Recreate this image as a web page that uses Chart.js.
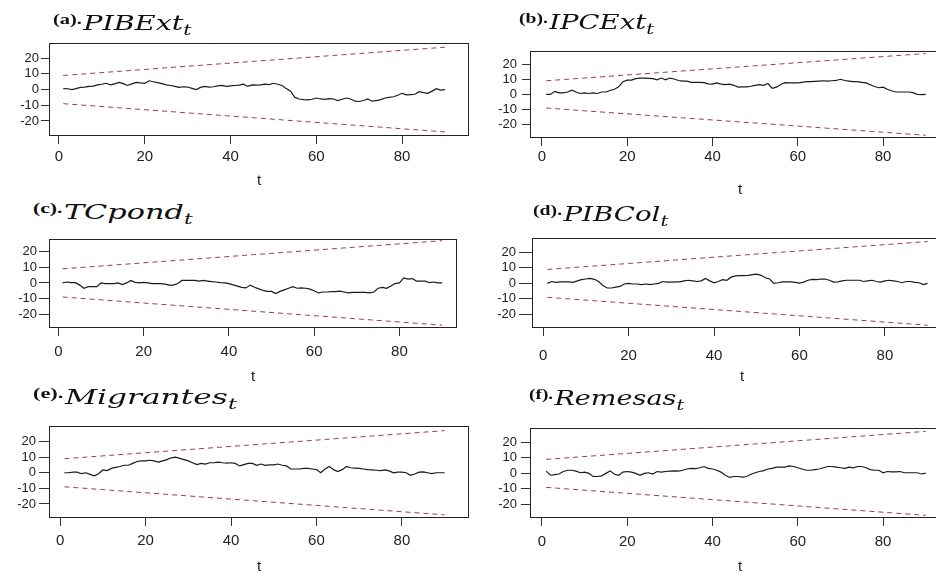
<!DOCTYPE html>
<html>
<head>
<meta charset="utf-8">
<script src="https://cdn.jsdelivr.net/npm/chart.js@4.4.1/dist/chart.umd.min.js"></script>
<style>
  body { margin: 0; background: #fff; width: 936px; height: 581px; overflow: hidden; position: relative; }
  .panel { position: absolute; }
  .ttl { position: absolute; white-space: nowrap; transform-origin: 0 0; color: #111; line-height: 24px; }
  .ttl b { font: bold 15px "Liberation Serif", serif; position: relative; top: -6px; margin-right: 1px; }
  .ttl i { font: italic 21px "DejaVu Serif", serif; }
  .ttl sub { font: italic 15px "DejaVu Serif", serif; vertical-align: -5px; }
</style>
</head>
<body>
<script>
// axis ticks
const xTicks = [0, 20, 40, 60, 80];
const yTicks = [-20, -10, 0, 10, 20];

// CUSUM 5% bands, start and end points
const boundT = [1, 90];
const upperBound = [9, 27];
const lowerBound = [-9, -27];

// recursive residual cumulative sums, t = 1..90
const pibExt = [0.6,0.5,0.0,0.6,1.4,1.6,2.0,2.2,3.0,3.4, 4.0,3.0,3.6,4.6,3.8,2.6,3.6,4.6,4.2,4.0,
  5.6,5.0,4.4,3.8,3.0,2.6,2.0,1.4,1.8,1.6, 0.8,0.0,1.4,2.0,1.6,1.8,2.4,2.6,2.0,2.4,
  2.6,2.8,3.4,2.0,3.0,2.8,3.0,3.4,3.2,4.0, 3.4,2.6,0.6,-1.0,-5.0,-6.0,-6.4,-6.6,-6.2,-5.4,
  -6.0,-6.2,-5.8,-6.0,-7.0,-6.2,-5.4,-6.0,-7.4,-7.6, -7.0,-6.0,-7.4,-7.0,-6.4,-5.4,-5.0,-4.6,-3.6,-2.4,
  -3.4,-3.2,-3.0,-1.4,-2.0,-2.4,-1.0,0.6,-0.4,0.0];
const ipcExt = [0,0,2,1,1,1.6,2.8,1.6,0.6,1, 0.6,1,0.6,1.6,1.6,2.6,3.4,5,8.4,9.4,
  9.4,10.4,10.8,10.8,10.6,10.4,9.6,10.8,9.6,10.8, 10.2,9.2,8.8,8.8,8,8,8,7.8,7,6.8,
  7.6,6.8,6.4,6.8,6,4.8,5,5,5.4,6, 6.4,6,7.2,4,4.8,6.6,7.8,7.6,7.6,7.6,
  8,8.4,8.4,8.6,8.8,9,8.8,9,9.2,10, 9.2,8.8,8.4,8.4,8,7.6,6.4,5.2,4.4,4.8,
  3.4,2.4,1.6,1.6,1.6,1.6,1.2,0,-0.2,0];
const tcPond = [0,0.6,0.2,0.2,-1.4,-3.4,-2.4,-2.4,-2.4,0, -0.4,-0.4,-0.4,0,-1,0,1.6,0.4,0,0.4,
  0,-0.4,-0.4,-0.4,-0.8,-1.4,-1.4,-0.4,1.6,1.6, 1.6,1.6,1.2,1.6,1.2,0.8,0.6,0.2,0,-0.4,
  -1.2,-2,-2.8,-3.2,-1.4,-2.8,-3.8,-4.8,-5.4,-5.4, -6.8,-5.4,-4.4,-3.4,-2.4,-3.4,-3.2,-3.4,-4,-5,
  -6.4,-5.8,-5.8,-5.6,-5.6,-5.2,-5.8,-6.4,-6,-6, -6,-6,-6.4,-5.8,-3.4,-2.8,-3.4,-2,-0.4,0,
  3.2,2.4,2.8,1.2,1.2,1.2,0.2,0.6,0,0];
const pibCol = [0,1.2,0.6,1,1,1,0.6,1.6,2.4,2.8, 3.2,2.6,1.2,-1.4,-3,-3,-2.4,-2,-0.4,0,
  -0.4,-0.4,-0.8,-0.4,-0.8,-0.4,0,1.2,0.8,0.8, 1,1,1.6,2,1.6,1.2,1.6,3.2,1.6,0.4,
  1.2,2.4,2,4,4.8,5,5,5.2,5.6,6, 5.2,3.6,2.8,0,0.4,1,1,1,0.6,0.2,
  0.8,2,2.6,2.4,2.8,2.8,2,0.8,1,1.6, 2,2,2,2,1.2,1.6,2,1.2,0.8,1.6,
  2,1.6,1.2,0.4,1.2,1.2,0.6,0.4,-0.8,0];
const migrantes = [0,0,0.4,0.4,-0.6,0,-1,-2,-0.6,1.8, 1.4,2.8,3.4,4,4.8,4.8,6,7.2,7.6,7.6,
  8,7.6,6.8,7.6,8.4,9.6,10,9.2,8.4,7.6, 6.4,5.2,6,5.6,6.4,6.4,6.8,6.4,6.2,6.4,
  6,4.4,5.2,6,6,4.8,5.6,4.8,5,5, 5.6,4.8,4.4,2.4,2.4,2.4,2.8,2.8,2.4,2,
  0,2.4,4,2,0.8,2,4,3.2,3,2.8, 2.4,2,1.8,1.6,1.4,1.8,1.2,0,0.4,0.4,
  0,-1.6,-0.8,0.4,0.6,0,-0.6,0,0,0];
const remesas = [1.4,-1.2,-0.8,-0.4,1.2,2,2,1.4,0.4,0.8, 0,-2,-2,-1.6,0,1.6,-0.6,-1.2,0.8,1.2,
  0.8,0,-1.2,0,0.4,-0.4,1.2,0.8,1.2,1.4, 1.6,1.4,2,2.8,3.2,3,3.6,4.4,3.2,2.8,
  2,0.8,-1.2,-2.6,-2,-2,-2.4,-2,-0.6,0.4, 1.2,1.8,2.8,3.2,4,4,4,4.8,4.4,3.6,
  2.8,2,2,2.4,2.8,3.6,4.4,4.4,4,3.6, 3.2,4,3.6,4.4,4.4,3.6,2.4,2,2,0.4,
  1.2,1,1,1.2,0.4,0.4,0.4,0.4,-0.4,0.2];

// box = plot frame [left, top, right, bottom]; title = [left, baseline, width of name]
const panels = [
  { series: pibExt, tag: '(a).', name: 'PIBExt', title: [53, 30, 100],
    box: [49, 37, 469, 136], x: [-2.33, 95.6], y: [-29.6, 29.8], yTick: 8, yPad: 2, xPad: 4, xAxisH: 54 },
  { series: ipcExt, tag: '(b).', name: 'IPCExt', title: [519, 29, 97],
    box: [530, 42, 950, 138], x: [-2.8, 95.7], y: [-28.8, 28.8], yTick: 8, yPad: 5, xPad: 2, xAxisH: 61 },
  { series: tcPond, tag: '(c).', name: 'TCpond', title: [33, 219, 120],
    box: [49, 233, 457, 328], x: [-2.2, 93.5], y: [-28.8, 28.2], yTick: 10, yPad: 2, xPad: 7, xAxisH: 58 },
  { series: pibCol, tag: '(d).', name: 'PIBCol', title: [533, 221, 97],
    box: [532, 231, 952, 328], x: [-2.6, 95.7], y: [-28.8, 29.4], yTick: 13, yPad: 3, xPad: 11, xAxisH: 58 },
  { series: migrantes, tag: '(e).', name: 'Migrantes', title: [33, 404, 163],
    box: [49, 419, 469, 518], x: [-2.6, 95.7], y: [-29.0, 30.1], yTick: 10, yPad: 3, xPad: 6, xAxisH: 58 },
  { series: remesas, tag: '(f).', name: 'Remesas', title: [529, 405, 122],
    box: [530, 420, 950, 518], x: [-2.8, 95.7], y: [-28.7, 29.3], yTick: 9, yPad: 4, xPad: 7, xAxisH: 58 }
];

const bandColor = '#a03c3c';
const inkColor = '#222';
const padL = 60, padT = 4, padR = 4;

// full frame round the plot area
const frame = {
  id: 'frame',
  afterDraw(chart) {
    const a = chart.chartArea, ctx = chart.ctx;
    ctx.save();
    ctx.strokeStyle = '#222';
    ctx.lineWidth = 1;
    ctx.strokeRect(Math.round(a.left) + 0.5, Math.round(a.top) + 0.5,
      Math.round(a.right - a.left) - 1, Math.round(a.bottom - a.top) - 1);
    ctx.restore();
  }
};

function addTitle(p) {
  const d = document.createElement('div');
  d.className = 'ttl';
  d.style.left = p.title[0] + 'px';
  d.style.top = (p.title[1] - 19) + 'px';
  d.innerHTML = '<b>' + p.tag + '</b><i>' + p.name + '</i><sub>t</sub>';
  document.body.appendChild(d);
  const w = d.querySelector('i').getBoundingClientRect().width;
  d.style.transform = 'scaleX(' + (p.title[2] / w) + ')';
}

function drawPanel(p) {
  const wrap = document.createElement('div');
  wrap.className = 'panel';
  wrap.style.left = (p.box[0] - padL) + 'px';
  wrap.style.top = (p.box[1] - padT) + 'px';
  wrap.style.width = (p.box[2] - p.box[0] + padL + padR) + 'px';
  wrap.style.height = (p.box[3] - p.box[1] + padT + p.xAxisH) + 'px';
  const cv = document.createElement('canvas');
  wrap.appendChild(cv);
  document.body.appendChild(wrap);

  const pts = p.series.map((v, i) => ({ x: i + 1, y: v }));
  const up = boundT.map((t, i) => ({ x: t, y: upperBound[i] }));
  const lo = boundT.map((t, i) => ({ x: t, y: lowerBound[i] }));

  new Chart(cv, {
    type: 'line',
    data: {
      datasets: [
        { data: pts, borderColor: '#1a1a1a', borderWidth: 1.2 },
        { data: up, borderColor: bandColor, borderWidth: 1, borderDash: [5, 4] },
        { data: lo, borderColor: bandColor, borderWidth: 1, borderDash: [5, 4] }
      ]
    },
    options: {
      responsive: true,
      maintainAspectRatio: false,
      animation: false,
      layout: { padding: { left: 0, top: padT, right: padR, bottom: 0 } },
      elements: { point: { radius: 0 }, line: { tension: 0 } },
      plugins: { legend: { display: false }, tooltip: { enabled: false } },
      scales: {
        x: {
          type: 'linear', min: p.x[0], max: p.x[1],
          afterBuildTicks: s => { s.ticks = xTicks.map(v => ({ value: v })); },
          afterFit: s => { s.height = p.xAxisH; },
          grid: { drawOnChartArea: false, tickLength: 8, color: '#333' },
          border: { display: false },
          ticks: { padding: p.xPad, autoSkip: false, maxRotation: 0, color: inkColor,
                   font: { family: 'Liberation Sans', size: 15 } },
          title: { display: true, text: 't', color: inkColor, padding: 0,
                   font: { family: 'Liberation Sans', size: 15 } }
        },
        y: {
          type: 'linear', min: p.y[0], max: p.y[1],
          afterBuildTicks: s => { s.ticks = yTicks.map(v => ({ value: v })); },
          afterFit: s => { s.width = padL; },
          grid: { drawOnChartArea: false, tickLength: p.yTick, color: '#333' },
          border: { display: false },
          ticks: { padding: p.yPad, autoSkip: false, color: inkColor,
                   font: { family: 'Liberation Sans', size: 13 } }
        }
      }
    },
    plugins: [frame]
  });
}

panels.forEach(p => { drawPanel(p); addTitle(p); });
</script>
</body>
</html>
